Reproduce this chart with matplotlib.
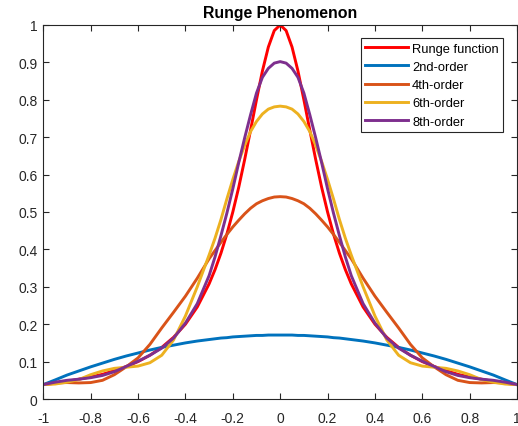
import numpy as np
import matplotlib.pyplot as plt

plt.rcParams['font.family'] = ['Liberation Sans', 'DejaVu Sans']

# sample positions (finer near the peak)
x = [-1.0, -0.95, -0.9, -0.85, -0.8, -0.75, -0.7, -0.65, -0.6, -0.55, -0.5, -0.45, -0.4, -0.35,
     -0.3, -0.275, -0.25, -0.225, -0.2, -0.175, -0.15, -0.125, -0.1, -0.075, -0.05, -0.025,
     0.0,
     0.025, 0.05, 0.075, 0.1, 0.125, 0.15, 0.175, 0.2, 0.225, 0.25, 0.275, 0.3,
     0.35, 0.4, 0.45, 0.5, 0.55, 0.6, 0.65, 0.7, 0.75, 0.8, 0.85, 0.9, 0.95, 1.0]

runge = [0.0385, 0.042, 0.047, 0.053, 0.059, 0.066, 0.076, 0.087, 0.1, 0.117, 0.138, 0.165, 0.2, 0.246,
         0.308, 0.346, 0.39, 0.441, 0.5, 0.566, 0.64, 0.719, 0.8, 0.877, 0.941, 0.985,
         1.0,
         0.985, 0.941, 0.877, 0.8, 0.719, 0.64, 0.566, 0.5, 0.441, 0.39, 0.346, 0.308,
         0.246, 0.2, 0.165, 0.138, 0.117, 0.1, 0.087, 0.076, 0.066, 0.059, 0.053, 0.047, 0.042, 0.0385]

order2 = [0.0385, 0.051, 0.064, 0.075, 0.086, 0.096, 0.106, 0.115, 0.123, 0.131, 0.138, 0.144, 0.150, 0.155,
          0.159, 0.161, 0.163, 0.164, 0.166, 0.167, 0.168, 0.169, 0.170, 0.170, 0.171, 0.171,
          0.171,
          0.171, 0.171, 0.170, 0.170, 0.169, 0.168, 0.167, 0.166, 0.164, 0.163, 0.161, 0.159,
          0.155, 0.150, 0.144, 0.138, 0.131, 0.123, 0.115, 0.106, 0.096, 0.086, 0.075, 0.064, 0.051, 0.0385]

order4 = [0.0385, 0.043, 0.044, 0.043, 0.044, 0.05, 0.065, 0.086, 0.11, 0.146, 0.19, 0.232, 0.275, 0.323,
          0.375, 0.397, 0.419, 0.44, 0.46, 0.478, 0.495, 0.51, 0.522, 0.53, 0.536, 0.54,
          0.541,
          0.54, 0.536, 0.53, 0.522, 0.51, 0.495, 0.478, 0.46, 0.44, 0.419, 0.397, 0.375,
          0.323, 0.275, 0.232, 0.19, 0.146, 0.11, 0.086, 0.065, 0.05, 0.044, 0.043, 0.044, 0.043, 0.0385]

order6 = [0.0385, 0.04, 0.045, 0.052, 0.065, 0.075, 0.082, 0.085, 0.088, 0.097, 0.117, 0.158, 0.222, 0.30,
          0.385, 0.43, 0.48, 0.535, 0.587, 0.635, 0.678, 0.715, 0.742, 0.762, 0.775, 0.781,
          0.783,
          0.781, 0.775, 0.762, 0.742, 0.715, 0.678, 0.635, 0.587, 0.535, 0.48, 0.43, 0.385,
          0.30, 0.222, 0.158, 0.117, 0.097, 0.088, 0.085, 0.082, 0.075, 0.065, 0.052, 0.045, 0.04, 0.0385]

order8 = [0.0385, 0.045, 0.05, 0.053, 0.057, 0.063, 0.073, 0.087, 0.101, 0.117, 0.136, 0.163, 0.203, 0.255,
          0.33, 0.38, 0.437, 0.497, 0.562, 0.632, 0.698, 0.76, 0.818, 0.86, 0.884, 0.898,
          0.902,
          0.898, 0.884, 0.86, 0.818, 0.76, 0.698, 0.632, 0.562, 0.497, 0.437, 0.38, 0.33,
          0.255, 0.203, 0.163, 0.136, 0.117, 0.101, 0.087, 0.073, 0.063, 0.057, 0.053, 0.05, 0.045, 0.0385]

labels = ['Runge function', '2nd-order', '4th-order', '6th-order', '8th-order']
colors = ['#FF0000', '#0072BD', '#D95319', '#EDB120', '#7E2F8E']

xticks = [-1, -0.8, -0.6, -0.4, -0.2, 0, 0.2, 0.4, 0.6, 0.8, 1]
xtick_labels = ['-1', '-0.8', '-0.6', '-0.4', '-0.2', '0', '0.2', '0.4', '0.6', '0.8', '1']
yticks = [0, 0.1, 0.2, 0.3, 0.4, 0.5, 0.6, 0.7, 0.8, 0.9, 1]
ytick_labels = ['0', '0.1', '0.2', '0.3', '0.4', '0.5', '0.6', '0.7', '0.8', '0.9', '1']

fig = plt.figure(figsize=(5.18, 4.27), dpi=100)
ax = fig.add_axes([0.0836, 0.0632, 0.9146, 0.876])

for y, lab, c in zip([runge, order2, order4, order6, order8], labels, colors):
    ax.plot(x, y, color=c, lw=2.1, label=lab)

ax.set_xlim(-1, 1)
ax.set_ylim(0, 1)
ax.set_xticks(xticks)
ax.set_xticklabels(xtick_labels)
ax.set_yticks(yticks)
ax.set_yticklabels(ytick_labels)

axis_col = '#262626'
for s in ax.spines.values():
    s.set_color(axis_col)
    s.set_linewidth(0.8)
ax.tick_params(direction='in', length=4, width=0.8, color=axis_col, labelcolor=axis_col,
               labelsize=10, top=True, right=True)
ax.tick_params(axis='x', pad=8.5)
ax.tick_params(axis='y', pad=4)

ax.set_title('Runge Phenomenon', fontsize=11.4, fontweight='bold', pad=5.5)

leg = ax.legend(loc='upper right', bbox_to_anchor=(0.971, 0.965), borderaxespad=0,
                fontsize=9.3, handlelength=3.3, handletextpad=0.35, labelspacing=0.48,
                borderpad=0.35, fancybox=False, framealpha=1)
leg.get_frame().set_edgecolor(axis_col)
leg.get_frame().set_linewidth(0.8)

fig.savefig('out.png', dpi=100)
